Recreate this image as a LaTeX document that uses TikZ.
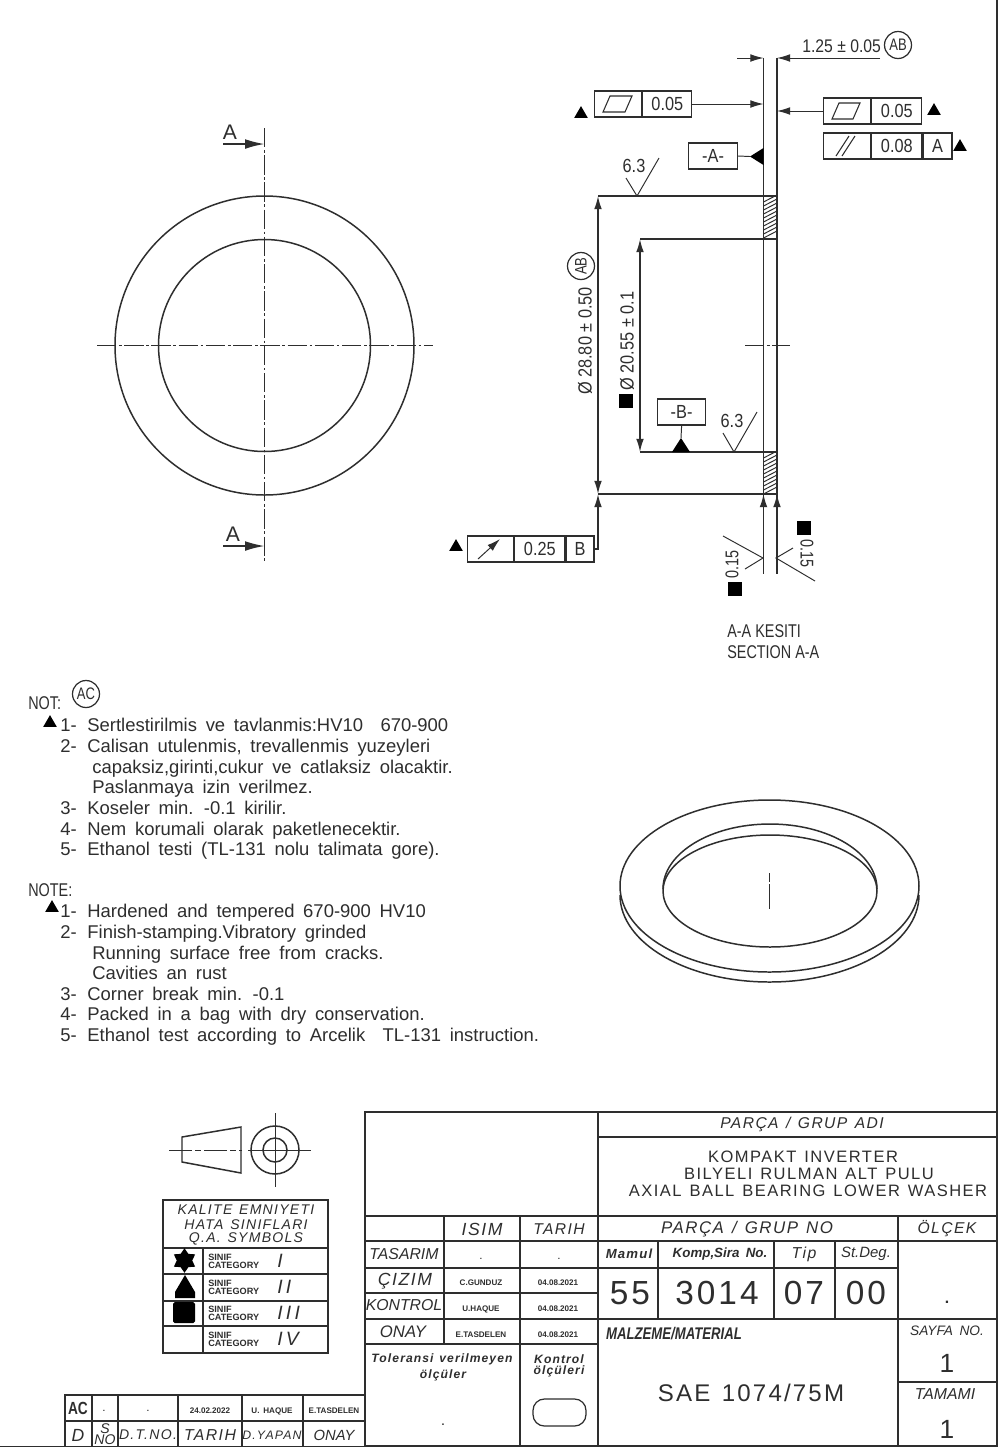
\documentclass[tikz,border=0pt]{standalone}
\usepackage{fontspec}
\usepackage{amsmath}
\setmainfont{Liberation Sans}[WordSpace=1.7]
\newfontfamily\narrowfont[FakeStretch=.78]{Liberation Sans}
\newfontfamily\dimfont[FakeStretch=.86]{Liberation Sans}
\newfontfamily\widefont[LetterSpace=9,WordSpace=1.3]{Liberation Sans}
\usetikzlibrary{arrows.meta,shapes.geometric}
\definecolor{inkgray}{gray}{.18}
\newcommand{\notenum}[1]{\makebox[15.4pt][l]{#1}}
\tikzset{
	part/.style={line width=.85pt,inkgray},
	thin line/.style={line width=.55pt,inkgray},
	axis line/.style={line width=.6pt,inkgray,dash pattern=on 11pt off 1.5pt on 1.5pt off 1.5pt},
	dimtip/.style={-{Latex[length=7.5pt,width=4.4pt]}},
	label/.style={inner sep=0pt,text=inkgray,text height=10pt,text depth=2.5pt,font=\fontsize{10.5}{12}\selectfont},
	dimlabel/.style={inner sep=0pt,text=inkgray,font=\dimfont\fontsize{10.8}{12}\selectfont},
	seclabel/.style={inner sep=0pt,text=inkgray,font=\narrowfont\fontsize{10.5}{12}\selectfont},
	titlelabel/.style={inner sep=0pt,text=inkgray,font=\widefont\fontsize{9.4}{10}\selectfont},
	headlabel/.style={inner sep=0pt,text=inkgray,font=\widefont\itshape\fontsize{8.9}{10}\selectfont},
	biglabel/.style={inner sep=0pt,text=inkgray,font=\widefont\fontsize{19}{20}\selectfont},
	tinylabel/.style={inner sep=0pt,text=inkgray,font=\bfseries\fontsize{4.6}{5}\selectfont},
	tolbox/.style={draw=inkgray,line width=.7pt,minimum height=26*.5692pt,inner sep=0pt,text=inkgray,font=\dimfont\fontsize{10.8}{12}\selectfont,anchor=west},
	revmark/.style={draw=inkgray,circle,line width=.7pt,minimum size=27*.5692pt,inner sep=0pt,text=inkgray,font=\narrowfont\fontsize{9.5}{10}\selectfont},
	tri/.style={regular polygon,regular polygon sides=3,fill=black,inner sep=0pt,minimum size=9pt},
	sq/.style={rectangle,fill=black,inner sep=0pt,minimum size=7.5pt},
	tiptri/.style={fill=black,draw=none},
}
\begin{document}
\begin{tikzpicture}[x=.02cm,y=-.02cm]
\useasboundingbox (0,0) rectangle (1000,1448);
\fill[white] (0,0) rectangle (1000,1448);
\draw[part] (0,1446.5) -- (997,1446.5) -- (997,0);
% plan view
\draw[part] (264.5,345.5) circle [radius=149.5];
\draw[part] (264.5,345.5) circle [radius=106];
\draw[axis line] (97,345.5) -- (433,345.5);
\draw[axis line,line width=.9pt] (264.5,128) -- (264.5,562);
\node[label,font=\fontsize{12}{12}\selectfont] (cutA) at (230,133) {A};
\node[label,font=\fontsize{12}{12}\selectfont] (cutB) at (233,535) {A};
\coordinate (cutAl) at (223,144);
\coordinate (cutAr) at (264.5,144);
\coordinate (cutBl) at (223,546);
\coordinate (cutBr) at (264.5,546);
\draw[part,-{Latex[length=11pt,width=5.5pt]}] (cutAl) -- (cutAr);
\draw[part,-{Latex[length=11pt,width=5.5pt]}] (cutBl) -- (cutBr);
% section
\draw[part] (763.5,58) -- (763.5,574);
\draw[part] (777,58) -- (777,574);
\draw[part] (598,196) -- (777,196);
\draw[part] (640,239) -- (777,239);
\draw[part] (640,452) -- (777,452);
\draw[part] (598,494) -- (777,494);
\foreach \yy in {196,200,...,232} \draw[thin line] (763.5,\yy+6) -- (777,\yy-1);
\foreach \yy in {452,456,...,488} \draw[thin line] (763.5,\yy+6) -- (777,\yy-1);
\draw[axis line] (745,345.5) -- (790,345.5);
% top thickness dimension
\node[dimlabel,anchor=west,font=\dimfont\fontsize{10.4}{12}\selectfont] (thick) at (802,46) {1.25 ± 0.05};
\node[revmark] (thickmark) at (898,45) {AB};
\draw[thin line,dimtip] (737,58) -- (763.5,58);
\draw[thin line,dimtip] (880,58) -- (777,58);
% flatness boxes
\node[tolbox,minimum width=47*.5692pt] (flatL) at (594,104) {};
\node[tolbox,minimum width=49*.5692pt,anchor=west] (flatLv) at (flatL.east) {0.05};
\draw[line width=.6pt,inkgray] (603,112) -- (610,96) -- (632,96) -- (625,112) -- cycle;
\draw[thin line,dimtip] (flatLv.east) -- (763.5,104);
\node[tri] (flatLm) at (581,114) {};
\node[tolbox,minimum width=47*.5692pt] (flatR) at (823,111) {};
\node[tolbox,minimum width=50*.5692pt,anchor=west] (flatRv) at (flatR.east) {0.05};
\draw[line width=.6pt,inkgray] (832,119) -- (839,103) -- (860,103) -- (853,119) -- cycle;
\draw[thin line,dimtip] (flatR.west) -- (777,111);
\node[tri] (flatRm) at (934,111) {};
\node[tolbox,minimum width=47*.5692pt] (parR) at (823,146) {};
\node[tolbox,minimum width=50*.5692pt,anchor=west] (parRv) at (parR.east) {0.08};
\node[tolbox,minimum width=29*.5692pt,anchor=west] (parRd) at (parRv.east) {A};
\draw[line width=.6pt,inkgray] (836,156) -- (849,136);
\draw[line width=.6pt,inkgray] (842,156) -- (855,136);
\node[tri] (parRm) at (960,147) {};
% datum A
\node[tolbox,minimum width=49*.5692pt] (datumA) at (688,156) {-A-};
\coordinate (datumAt) at (750,156.5);
\draw[thin line] (datumA.east) -- (datumAt);
\fill[tiptri] (datumAt) -- (763.5,148) -- (763.5,165) -- cycle;
% surface finish
\node[dimlabel] (roughA) at (634,166) {6.3};
\coordinate (roughAa) at (626,178);
\coordinate (roughAb) at (637,196);
\coordinate (roughAc) at (659,158);
\draw[thin line] (roughAa) -- (roughAb) -- (roughAc);
\node[dimlabel] (roughB) at (732,421) {6.3};
\coordinate (roughBa) at (723,433);
\coordinate (roughBb) at (734,452);
\coordinate (roughBc) at (757,412);
\draw[thin line] (roughBa) -- (roughBb) -- (roughBc);
% diameters
\coordinate (outerT) at (598,196);
\coordinate (outerB) at (598,494);
\coordinate (innerT) at (640,239);
\coordinate (innerB) at (640,452);
\draw[part,{Latex[length=7.5pt,width=4.4pt]}-{Latex[length=7.5pt,width=4.4pt]}] (outerT) -- (outerB);
\draw[part,{Latex[length=7.5pt,width=4.4pt]}-{Latex[length=7.5pt,width=4.4pt]}] (innerT) -- (innerB);
\node[dimlabel,rotate=90] (diaOut) at (585,341) {Ø 28.80 ± 0.50};
\node[revmark,rotate=90] (diaOutm) at (581,266) {AB};
\node[dimlabel,rotate=90] (diaIn) at (627,341) {Ø 20.55 ± 0.1};
\node[sq] (diaInm) at (626,401) {};
% datum B
\node[tolbox,minimum width=48*.5692pt] (datumB) at (657,412) {-B-};
\coordinate (datumBt) at (681,438);
\draw[thin line] (datumB.south) -- (datumBt);
\fill[tiptri] (datumBt) -- (672,452) -- (690,452) -- cycle;
% runout
\node[tolbox,minimum width=46*.5692pt] (runout) at (467,549) {};
\node[tolbox,minimum width=50*.5692pt,anchor=west] (runoutv) at (runout.east) {0.25};
\node[tolbox,minimum width=28*.5692pt,anchor=west] (runoutd) at (runoutv.east) {B};
\draw[thin line,dimtip] (478,559) -- (500,539);
\node[tri] (runoutm) at (456,547) {};
\draw[part,dimtip] (runoutd.east) -- (598,549) -- (598,494);
% wall arrows
\draw[part,dimtip] (763.5,520) -- (763.5,494);
\draw[part,dimtip] (777,520) -- (777,494);
% chamfers
\coordinate (chamLa) at (723,536);
\coordinate (chamLb) at (763,558);
\coordinate (chamLc) at (745,569);
\draw[thin line] (chamLa) -- (chamLb) -- (chamLc);
\coordinate (chamRa) at (815,581);
\coordinate (chamRb) at (776,558);
\coordinate (chamRc) at (793,548);
\draw[thin line] (chamRa) -- (chamRb) -- (chamRc);
\node[seclabel,rotate=90] (chamLt) at (732,564) {0.15};
\node[seclabel,rotate=-90] (chamRt) at (807,553) {0.15};
\node[sq] (chamLm) at (735,589) {};
\node[sq] (chamRm) at (804,528) {};
\node[seclabel,anchor=west] (secTr) at (727,631) {A-A KESITI};
\node[seclabel,anchor=west] (secEn) at (727,652) {SECTION A-A};
% notes
\node[label,anchor=west,font=\narrowfont\fontsize{10.5}{12}\selectfont] (notTr) at (28,703) {NOT:};
\node[revmark] (notTrm) at (86,694) {AC};
\node[tri] (notTrt) at (50,723) {};
\node[label,anchor=west] (nt1) at (60,725) {\notenum{1-}Sertlestirilmis ve tavlanmis:HV10\ \ 670-900};
\node[label,anchor=west] (nt2) at (60,746) {\notenum{2-}Calisan utulenmis, trevallenmis yuzeyleri};
\node[label,anchor=west] (nt2b) at (92,767) {capaksiz,girinti,cukur ve catlaksiz olacaktir.};
\node[label,anchor=west] (nt2c) at (92,787) {Paslanmaya izin verilmez.};
\node[label,anchor=west] (nt3) at (60,808) {\notenum{3-}Koseler min. -0.1 kirilir.};
\node[label,anchor=west] (nt4) at (60,829) {\notenum{4-}Nem korumali olarak paketlenecektir.};
\node[label,anchor=west] (nt5) at (60,849) {\notenum{5-}Ethanol testi (TL-131 nolu talimata gore).};
\node[label,anchor=west,font=\narrowfont\fontsize{10.5}{12}\selectfont] (noteEn) at (28,890) {NOTE:};
\node[tri] (noteEnt) at (52,908) {};
\node[label,anchor=west] (ne1) at (60,911) {\notenum{1-}Hardened and tempered 670-900 HV10};
\node[label,anchor=west] (ne2) at (60,932) {\notenum{2-}Finish-stamping.Vibratory grinded};
\node[label,anchor=west] (ne2b) at (92,953) {Running surface free from cracks.};
\node[label,anchor=west] (ne2c) at (92,973) {Cavities an rust};
\node[label,anchor=west] (ne3) at (60,994) {\notenum{3-}Corner break min. -0.1};
\node[label,anchor=west] (ne4) at (60,1014) {\notenum{4-}Packed in a bag with dry conservation.};
\node[label,anchor=west] (ne5) at (60,1035) {\notenum{5-}Ethanol test according to Arcelik\ \ TL-131 instruction.};
% washer view
\draw[part] (769.5,886) circle [x radius=149.5,y radius=86];
\draw[part] (620,895) arc [start angle=180,end angle=0,x radius=149.5,y radius=87];
\draw[part] (770,891) circle [x radius=107,y radius=56];
\draw[part] (663,889) arc [start angle=180,end angle=360,x radius=107,y radius=65];
\draw[thin line,dash pattern=on 5pt off 1.5pt on 14pt off 1.5pt on 5pt] (769.5,873) -- (769.5,911);
% projection symbol
\draw[part] (182,1137) -- (241,1127) -- (241,1173) -- (182,1162) -- cycle;
\draw[thin line,dash pattern=on 13pt off 2pt on 3pt off 2pt] (169,1150) -- (242,1150);
\draw[part] (275,1150) circle [radius=24];
\draw[part] (275,1150) circle [radius=12];
\draw[thin line] (248,1150) -- (311,1150);
\draw[thin line] (275,1113) -- (275,1187);
% quality table
\draw[part,line width=1.1pt] (163,1200) rectangle (328,1353);
\foreach \yy in {1248,1274,1301,1326} \draw[part,line width=1.1pt] (163,\yy) -- (328,\yy);
\draw[part,line width=1.1pt] (203,1248) -- (203,1353);
\node[headlabel,font=\widefont\itshape\fontsize{8}{9}\selectfont] (qa1) at (246,1210) {KALITE EMNIYETI};
\node[headlabel,font=\widefont\itshape\fontsize{8}{9}\selectfont] (qa2) at (246,1224.5) {HATA SINIFLARI};
\node[headlabel,font=\widefont\itshape\fontsize{8}{9}\selectfont] (qa3) at (246,1239) {Q.A. SYMBOLS};
\node[star,star points=6,star point ratio=1.6,fill=black,inner sep=0pt,minimum size=14pt] (qaStar) at (184.5,1260.5) {};
\fill[black] (185,1275) -- (195,1292) -- (195,1298) -- (175,1298) -- (175,1292) -- cycle;
\fill[black,rounded corners=1pt] (173,1302) rectangle (195,1323);
\foreach \yy/\mark in {1261/I,1287/I\,I,1313/I\,I\,I,1339/I\,V}{
	\node[tinylabel,font=\bfseries\fontsize{5.2}{5.5}\selectfont,anchor=west,align=left] at (208,\yy) {SINIF\\[-1pt]CATEGORY};
	\node[headlabel,font=\widefont\itshape\fontsize{11}{11}\selectfont,anchor=west] at (277,\yy) {\mark};
}
% revision table
\draw[part,line width=1.1pt] (65,1446) -- (65,1395) -- (365,1395);
\draw[part,line width=1.1pt] (65,1421) -- (365,1421);
\foreach \xx in {92,118,178,242,303} \draw[part,line width=1.1pt] (\xx,1395) -- (\xx,1446);
\node[dimlabel,font=\bfseries\narrowfont\fontsize{10}{12}\selectfont] (revAC) at (78,1408) {AC};
\node[tinylabel] (revB) at (104,1411) {.};
\node[tinylabel] (revC) at (148,1411) {.};
\node[tinylabel] (revD) at (210,1411) {24.02.2022};
\node[tinylabel] (revE) at (272,1411) {U. HAQUE};
\node[tinylabel] (revF) at (334,1411) {E.TASDELEN};
\node[headlabel,font=\widefont\itshape\fontsize{10}{10}\selectfont] (revG) at (78,1435) {D};
\node[headlabel,font=\itshape\fontsize{8}{6.5}\selectfont,align=center] (revH) at (105,1434) {S\\NO};
\node[headlabel,font=\widefont\itshape\fontsize{8}{9}\selectfont] (revI) at (148,1435) {D.T.NO.};
\node[headlabel,font=\widefont\itshape\fontsize{9}{10}\selectfont] (revJ) at (210,1435) {TARIH};
\node[headlabel,font=\widefont\itshape\fontsize{7}{9}\selectfont] (revK) at (272,1435) {D.YAPAN};
\node[headlabel,font=\itshape\fontsize{8.4}{9}\selectfont] (revL) at (334,1435) {ONAY};
% title block
\draw[part,line width=1.1pt] (365,1112) rectangle (997,1446);
\draw[part,line width=1.1pt] (598,1112) -- (598,1446);
\draw[part,line width=1.1pt] (444,1216) -- (444,1344);
\draw[part,line width=1.1pt] (520,1216) -- (520,1446);
\draw[part,line width=1.1pt] (898,1216) -- (898,1446);
\foreach \xx in {658,774,835} \draw[part,line width=1.1pt] (\xx,1241) -- (\xx,1319);
\draw[part,line width=1.1pt] (598,1137) -- (997,1137);
\draw[part,line width=1.1pt] (365,1216) -- (997,1216);
\draw[part,line width=1.1pt] (365,1241) -- (997,1241);
\draw[part,line width=1.1pt] (365,1268) -- (898,1268);
\draw[part,line width=1.1pt] (365,1293) -- (598,1293);
\draw[part,line width=1.1pt] (365,1319) -- (997,1319);
\draw[part,line width=1.1pt] (365,1344) -- (598,1344);
\draw[part,line width=1.1pt] (898,1382) -- (997,1382);
\node[headlabel] (tbName) at (802,1124) {PARÇA / GRUP ADI};
\node[titlelabel] (tbT1) at (803,1157) {KOMPAKT INVERTER};
\node[titlelabel] (tbT2) at (809,1174) {BILYELI RULMAN ALT PULU};
\node[titlelabel] (tbT3) at (808,1191) {AXIAL BALL BEARING LOWER WASHER};
\node[headlabel,font=\widefont\itshape\fontsize{10}{10}\selectfont] (tbIsim) at (482,1229) {ISIM};
\node[headlabel] (tbTarih) at (559,1229) {TARIH};
\node[headlabel,font=\widefont\itshape\fontsize{9.6}{10}\selectfont] (tbGrup) at (747,1229) {PARÇA / GRUP NO};
\node[headlabel] (tbOlcek) at (947,1229) {ÖLÇEK};
\node[headlabel,font=\itshape\fontsize{9}{10}\selectfont] (tbTas) at (404,1254) {TASARIM};
\node[headlabel,font=\widefont\itshape\fontsize{10}{10}\selectfont] (tbCiz) at (405,1281) {ÇIZIM};
\node[headlabel,font=\itshape\fontsize{9}{10}\selectfont] (tbKon) at (404,1305) {KONTROL};
\node[headlabel,font=\itshape\fontsize{9.5}{10}\selectfont] (tbOna) at (403,1332) {ONAY};
\node[tinylabel] (tbN1) at (481,1259) {.};
\node[tinylabel] (tbD1) at (559,1259) {.};
\node[tinylabel] (tbN2) at (481,1283) {C.GUNDUZ};
\node[tinylabel] (tbD2) at (558,1283) {04.08.2021};
\node[tinylabel] (tbN3) at (481,1309) {U.HAQUE};
\node[tinylabel] (tbD3) at (558,1309) {04.08.2021};
\node[tinylabel] (tbN4) at (481,1335) {E.TASDELEN};
\node[tinylabel] (tbD4) at (558,1335) {04.08.2021};
\node[headlabel,font=\bfseries\widefont\itshape\fontsize{7.5}{8}\selectfont] (tbMam) at (629,1254) {Mamul};
\node[headlabel,font=\bfseries\itshape\fontsize{7.6}{8}\selectfont] (tbKomp) at (720,1254) {Komp,Sira No.};
\node[headlabel,font=\widefont\itshape\fontsize{9}{9}\selectfont] (tbTip) at (804,1254) {Tip};
\node[headlabel,font=\itshape\fontsize{8.5}{8}\selectfont] (tbDeg) at (866,1254) {St.Deg.};
\node[biglabel] (tb55) at (630,1293) {55};
\node[biglabel] (tb3014) at (717,1293) {3014};
\node[biglabel] (tb07) at (804,1293) {07};
\node[biglabel] (tb00) at (866,1293) {00};
\node[tinylabel,font=\bfseries\fontsize{9}{9}\selectfont] (tbScale) at (947,1302) {.};
\node[headlabel,font=\bfseries\itshape\narrowfont\fontsize{9.6}{10}\selectfont] (tbMatL) at (674,1334) {MALZEME/MATERIAL};
\node[titlelabel,font=\widefont\fontsize{13.7}{14}\selectfont] (tbMat) at (751,1393) {SAE 1074/75M};
\node[headlabel,font=\itshape\fontsize{7.8}{9}\selectfont] (tbSay) at (947,1331) {SAYFA NO.};
\node[titlelabel,font=\fontsize{15}{15}\selectfont] (tbS1) at (947,1363) {1};
\node[headlabel,font=\itshape\fontsize{9}{9}\selectfont] (tbTam) at (945,1394) {TAMAMI};
\node[titlelabel,font=\fontsize{15}{15}\selectfont] (tbS2) at (947,1429) {1};
\node[headlabel,font=\bfseries\widefont\itshape\fontsize{6.9}{7}\selectfont] (tbTol1) at (442,1359) {Toleransi verilmeyen};
\node[headlabel,font=\bfseries\widefont\itshape\fontsize{6.9}{7}\selectfont] (tbTol2) at (443,1375) {ölçüler};
\node[headlabel,font=\bfseries\widefont\itshape\fontsize{6.9}{7}\selectfont] (tbKon1) at (559,1359) {Kontrol};
\node[headlabel,font=\bfseries\widefont\itshape\fontsize{6.9}{7}\selectfont] (tbKon2) at (559,1371) {ölçüleri};
\node[tinylabel,font=\bfseries\fontsize{6}{6}\selectfont] (tbTolv) at (443,1425) {.};
\node[draw=inkgray,line width=.7pt,rounded corners=6.5pt,minimum width=53*.5692pt,minimum height=27*.5692pt,inner sep=0pt] (tbOval) at (559.5,1412.5) {};
\end{tikzpicture}
\end{document}
